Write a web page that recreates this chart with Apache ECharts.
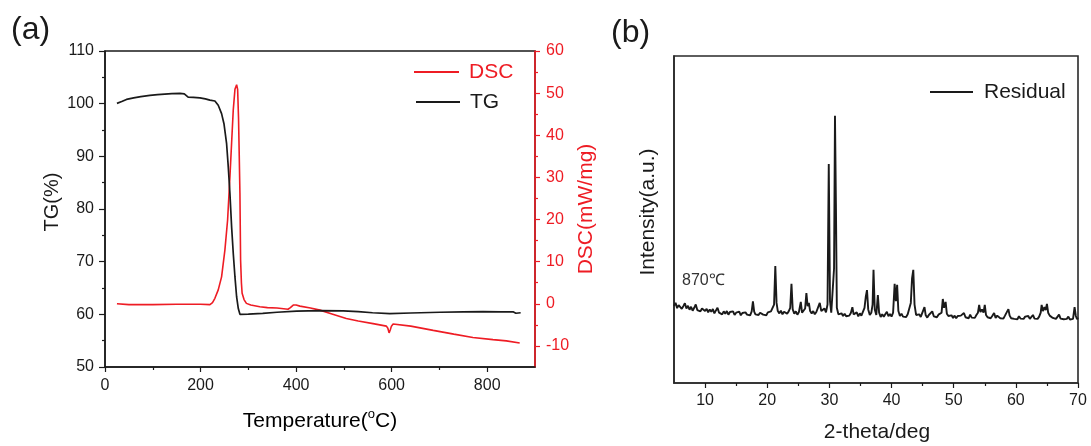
<!DOCTYPE html>
<html>
<head>
<meta charset="utf-8">
<script src="https://cdn.jsdelivr.net/npm/echarts@6/dist/echarts.min.js"></script>
<style>
html,body{margin:0;padding:0;background:#fff;}
#c{width:1091px;height:446px;}
</style>
</head>
<body>
<div id="c"></div>
<script>
// ---- Panel (a): TG / DSC ----
const tempTicks = [0, 200, 400, 600, 800];
const tempMinor = [100, 300, 500, 700];
const tgTicks = [50, 60, 70, 80, 90, 100, 110];
const tgMinor = [55, 65, 75, 85, 95, 105];
const dscTicks = [-10, 0, 10, 20, 30, 40, 50, 60];
const dscMinor = [-5, 5, 15, 25, 35, 45, 55];

const tgData = [
  [25,100.05],[35,100.4],[45,100.8],[60,101.1],[75,101.35],[94,101.57],[110,101.7],[125,101.8],[140,101.9],[157,101.95],
  [166,101.85],[170,101.6],[174,101.25],[185,101.2],[198.7,101.1],[210,100.9],[219.6,100.67],[230,100.5],[237,99.7],
  [244,98.1],[249,96.2],[254.5,92.4],[258,88],[261.5,82.9],[265,76.6],[268.5,71.5],[272,67.1],[275.5,63.3],[279,61.1],
  [282.4,60.0],[300,60.05],[330,60.2],[360,60.4],[401,60.6],[450,60.7],[498.6,60.65],[530,60.5],[560,60.3],[596,60.15],
  [640,60.25],[701,60.4],[750,60.45],[791,60.5],[830,60.45],[855,60.45],[860,60.2],[864,60.45],[870,60.3]
];

const dscData = [
  [25,0.0],[50,-0.2],[100,-0.2],[150,-0.1],[200,-0.1],[219.6,-0.2],[225,0.3],[230,1.3],[237,3.3],[244,6.4],[251,12.8],
  [256.6,19.9],[261.5,30.2],[265,38.2],[268.5,46.1],[272,50.9],[275.5,52.0],[277.6,50.9],[279.5,44.0],[281,35.0],
  [282.4,26.3],[283.8,10.4],[285.5,5.0],[287,2.5],[291,1.0],[296,0.1],[305,-0.3],[324,-0.7],[340,-0.9],[360,-1.0],
  [383,-1.3],[388,-0.9],[394,-0.3],[400,-0.3],[408,-0.55],[430,-1.0],[450,-1.5],[475,-2.4],[505,-3.5],[530,-4.1],
  [561,-4.7],[589,-5.3],[592,-5.8],[594.6,-6.9],[597,-6.2],[599.5,-5.3],[603,-4.8],[640,-5.3],[687,-6.3],[730,-7.2],
  [770,-8.0],[812,-8.5],[840,-8.8],[868,-9.3]
];

// ---- Panel (b): XRD ----
const thetaTicks = [10, 20, 30, 40, 50, 60, 70];
const thetaMinor = [15, 25, 35, 45, 55, 65];
const xrdData = [
  [5.00,23.6],[5.25,24.5],[5.50,22.9],[5.75,23.8],[6.00,24.2],[6.25,22.7],[6.50,23.5],[6.75,24.4],[7.00,22.8],[7.25,23.6],
  [7.50,22.4],[7.75,23.3],[8.00,22.1],[8.25,23.0],[8.50,24.0],[8.75,22.3],[9.00,22.9],[9.25,21.9],[9.50,22.8],[9.75,23.4],
  [10.00,22.0],[10.25,22.7],[10.50,21.6],[10.75,22.5],[11.00,21.8],[11.25,22.6],[11.50,21.3],[11.75,22.2],[12.00,23.0],[12.25,21.5],
  [12.50,22.1],[12.75,21.0],[13.00,21.9],[13.25,21.2],[13.50,22.0],[13.75,20.9],[14.00,21.7],[14.25,21.1],[14.50,21.9],[14.75,20.8],
  [15.00,21.5],[15.25,20.9],[15.50,21.8],[15.75,20.7],[16.00,21.4],[16.25,20.8],[16.50,21.6],[16.75,20.9],[17.00,21.3],[17.25,20.7],
  [17.50,21.9],[17.70,25.0],[17.90,21.8],[18.10,21.0],[18.35,21.6],[18.60,20.8],[18.85,21.5],[19.10,21.9],[19.35,20.9],[19.60,21.4],
  [19.85,20.7],[20.10,21.6],[20.35,21.0],[20.60,21.9],[20.85,22.3],[21.10,24.0],[21.30,35.8],[21.50,24.5],[21.70,22.0],[21.95,21.3],
  [22.20,22.1],[22.45,21.0],[22.70,21.8],[22.95,22.4],[23.20,21.2],[23.45,21.9],[23.70,23.0],[23.90,30.3],[24.10,22.5],[24.35,21.2],
  [24.60,21.9],[24.85,20.9],[25.10,21.7],[25.40,24.8],[25.60,21.5],[25.85,22.0],[26.10,22.8],[26.30,27.5],[26.50,23.5],[26.70,24.5],
  [26.90,22.0],[27.15,21.3],[27.40,22.0],[27.65,21.0],[27.90,21.7],[28.15,22.3],[28.45,24.5],[28.70,22.0],[28.95,21.5],[29.20,22.8],
  [29.45,21.6],[29.70,24.0],[29.90,67.0],[30.10,25.0],[30.30,21.5],[30.55,22.0],[30.75,35.0],[30.90,81.7],[31.05,55.0],[31.20,23.0],
  [31.45,21.0],[31.70,20.6],[31.95,21.3],[32.20,20.5],[32.45,21.2],[32.70,20.4],[32.95,21.0],[33.20,20.6],[33.45,21.4],[33.70,23.2],
  [33.90,21.0],[34.15,20.5],[34.40,21.6],[34.65,20.4],[34.90,21.3],[35.15,20.6],[35.40,21.2],[35.65,23.0],[35.85,26.3],[36.05,28.4],
  [36.25,22.5],[36.50,20.8],[36.75,21.5],[36.95,24.0],[37.10,34.6],[37.30,22.5],[37.55,20.8],[37.80,26.9],[38.00,21.5],[38.25,20.2],
  [38.50,21.0],[38.75,20.3],[39.00,20.9],[39.25,21.8],[39.50,20.4],[39.75,21.1],[40.00,20.3],[40.25,21.5],[40.50,30.3],[40.70,25.0],
  [40.90,30.0],[41.10,22.0],[41.35,20.5],[41.60,21.2],[41.85,20.3],[42.10,20.9],[42.35,20.2],[42.60,21.0],[42.85,21.5],[43.10,24.5],
  [43.30,32.0],[43.50,34.6],[43.70,24.0],[43.95,20.8],[44.20,20.3],[44.45,21.0],[44.70,20.2],[44.95,20.8],[45.30,23.2],[45.50,20.7],
  [45.75,20.0],[46.00,20.8],[46.25,20.2],[46.55,21.9],[46.80,20.4],[47.05,21.0],[47.30,20.1],[47.55,20.9],[47.80,20.3],[48.05,21.5],
  [48.25,25.7],[48.45,23.0],[48.70,24.8],[48.90,21.2],[49.15,20.5],[49.40,20.0],[49.65,20.7],[49.90,19.9],[50.15,20.6],[50.40,19.8],
  [50.65,20.5],[50.90,19.9],[51.15,20.6],[51.40,20.0],[51.65,21.4],[51.90,20.1],[52.15,20.7],[52.40,19.8],[52.65,20.9],[52.90,20.0],
  [53.15,20.6],[53.40,19.9],[53.65,20.8],[53.90,21.5],[54.10,23.9],[54.30,21.7],[54.55,22.5],[54.80,21.5],[55.00,23.9],[55.20,20.8],
  [55.45,20.1],[55.70,20.7],[55.95,19.8],[56.20,20.5],[56.50,21.4],[56.75,19.9],[57.00,20.6],[57.25,21.2],[57.50,19.8],[57.75,20.4],
  [58.00,19.7],[58.25,20.6],[58.55,21.0],[58.80,22.6],[59.00,20.6],[59.25,19.8],[59.50,20.3],[59.75,19.6],[60.00,20.2],[60.25,19.5],
  [60.50,20.4],[60.75,19.7],[61.00,20.2],[61.25,19.6],[61.50,20.3],[61.75,19.8],[62.00,20.5],[62.25,19.6],[62.50,20.0],[62.75,20.8],
  [63.00,19.7],[63.25,20.2],[63.50,19.6],[63.75,20.3],[64.00,21.5],[64.15,23.9],[64.35,22.0],[64.60,23.2],[64.80,22.3],[65.00,24.2],
  [65.20,21.5],[65.45,20.6],[65.70,21.0],[65.95,19.9],[66.20,20.4],[66.45,19.6],[66.70,20.2],[66.95,20.9],[67.20,19.7],[67.45,20.3],
  [67.70,19.5],[67.95,20.1],[68.20,19.6],[68.45,20.3],[68.70,19.4],[68.95,20.0],[69.20,19.6],[69.45,23.2],[69.65,20.5],[69.85,19.5],
  [70.00,20.0]
];

const FONT = '"Liberation Sans", Arial, Helvetica, sans-serif';
const RED = '#ee1c24';
const INK = '#1a1a1a';

const chart = echarts.init(document.getElementById('c'), null, {renderer: 'canvas'});

function mainAxis(extra) {
  return Object.assign({
    type: 'value',
    splitLine: {show: false},
    axisLine: {show: true, onZero: false, lineStyle: {color: INK, width: 1.5}},
    axisTick: {show: true, inside: false, length: 5, lineStyle: {color: INK, width: 1.2}},
    axisLabel: {show: true, color: INK, fontSize: 16, fontFamily: FONT, margin: 11}
  }, extra);
}
function minorAxis(extra, color) {
  return Object.assign({
    type: 'value',
    splitLine: {show: false},
    axisLine: {show: false, onZero: false},
    axisTick: {show: true, inside: false, length: 3, lineStyle: {color: color || INK, width: 1.2}},
    axisLabel: {show: false}
  }, extra);
}
function legendFor(name, color, left, top, w, gap) {
  return {
    data: [{name: name, icon: 'rect', itemStyle: {color: color}, textStyle: {color: color}}],
    left: left, top: top, padding: 0, itemWidth: w, itemHeight: 1.8,
    selectedMode: false,
    textStyle: {fontSize: 21, fontFamily: FONT, lineHeight: 22, padding: [0, 0, 0, gap]}
  };
}

const option = {
  animation: false,
  backgroundColor: '#fff',
  grid: [
    {left: 105, top: 51, width: 430, height: 316, show: true, borderColor: INK, borderWidth: 1.5, backgroundColor: 'transparent', containLabel: false, outerBoundsMode: 'none'},
    {left: 674, top: 56, width: 404, height: 327, show: true, borderColor: '#2a2a2a', borderWidth: 1.6, backgroundColor: 'transparent', containLabel: false, outerBoundsMode: 'none'}
  ],
  xAxis: [
    mainAxis({gridIndex: 0, position: 'bottom', min: 0, max: 900,
      axisTick: {show: true, length: 5, lineStyle: {color: INK, width: 1.2}, customValues: tempTicks},
      axisLabel: {show: true, color: INK, fontSize: 16, fontFamily: FONT, margin: 11, customValues: tempTicks}}),
    minorAxis({gridIndex: 0, position: 'bottom', min: 0, max: 900,
      axisTick: {show: true, length: 3, lineStyle: {color: INK, width: 1.2}, customValues: tempMinor}}),
    mainAxis({gridIndex: 1, position: 'bottom', min: 5, max: 70,
      axisLine: {show: true, onZero: false, lineStyle: {color: '#2a2a2a', width: 1.6}},
      axisTick: {show: true, length: 5, lineStyle: {color: INK, width: 1.2}, customValues: thetaTicks},
      axisLabel: {show: true, color: INK, fontSize: 16, fontFamily: FONT, margin: 10, customValues: thetaTicks}}),
    minorAxis({gridIndex: 1, position: 'bottom', min: 5, max: 70,
      axisTick: {show: true, length: 3, lineStyle: {color: INK, width: 1.2}, customValues: thetaMinor}})
  ],
  yAxis: [
    mainAxis({gridIndex: 0, position: 'left', min: 50, max: 110,
      axisTick: {show: true, length: 6, lineStyle: {color: INK, width: 1.2}, customValues: tgTicks},
      axisLabel: {show: true, color: INK, fontSize: 16, fontFamily: FONT, margin: 11, customValues: tgTicks}}),
    minorAxis({gridIndex: 0, position: 'left', min: 50, max: 110,
      axisTick: {show: true, length: 3, lineStyle: {color: INK, width: 1.2}, customValues: tgMinor}}),
    mainAxis({gridIndex: 0, position: 'right', min: -15, max: 60,
      axisLine: {show: true, onZero: false, lineStyle: {color: RED, width: 1.6}},
      axisTick: {show: true, length: 5, lineStyle: {color: RED, width: 1.2}, customValues: dscTicks},
      axisLabel: {show: true, color: RED, fontSize: 16, fontFamily: FONT, margin: 11, customValues: dscTicks}}),
    minorAxis({gridIndex: 0, position: 'right', min: -15, max: 60,
      axisTick: {show: true, length: 3, lineStyle: {color: RED, width: 1.2}, customValues: dscMinor}}, RED),
    {type: 'value', gridIndex: 1, position: 'left', min: 0, max: 100,
      splitLine: {show: false}, axisLine: {show: true, onZero: false, lineStyle: {color: '#2a2a2a', width: 1.6}},
      axisTick: {show: false}, axisLabel: {show: false}}
  ],
  legend: [
    legendFor('DSC', RED, 414, 61, 45, 5),
    legendFor('TG', INK, 416, 91, 44, 5),
    legendFor('Residual', INK, 930, 81, 43, 6)
  ],
  series: [
    {name: 'TG', type: 'line', xAxisIndex: 0, yAxisIndex: 0, data: tgData, symbol: 'none', showSymbol: false,
      smooth: false, lineStyle: {color: INK, width: 1.7}, itemStyle: {color: INK}, z: 3},
    {name: 'DSC', type: 'line', xAxisIndex: 0, yAxisIndex: 2, data: dscData, symbol: 'none', showSymbol: false,
      smooth: false, lineStyle: {color: RED, width: 1.6}, itemStyle: {color: RED}, z: 2},
    {name: 'Residual', type: 'line', xAxisIndex: 2, yAxisIndex: 4, data: xrdData, symbol: 'none', showSymbol: false,
      smooth: false, lineStyle: {color: INK, width: 1.9}, itemStyle: {color: INK}, z: 2}
  ],
  graphic: [
    {type: 'text', left: 11, top: 14, style: {text: '(a)', font: '32px ' + FONT, fill: INK}},
    {type: 'text', left: 611, top: 17, style: {text: '(b)', font: '32px ' + FONT, fill: INK}},
    {type: 'text', x: 52, y: 202, rotation: Math.PI / 2,
      style: {text: 'TG(%)', font: '20px ' + FONT, fill: INK, align: 'center', verticalAlign: 'middle'}},
    {type: 'text', x: 586, y: 209, rotation: Math.PI / 2,
      style: {text: 'DSC(mW/mg)', font: '21px ' + FONT, fill: RED, align: 'center', verticalAlign: 'middle'}},
    {type: 'text', x: 648, y: 212, rotation: Math.PI / 2,
      style: {text: 'Intensity(a.u.)', font: '21px ' + FONT, fill: INK, align: 'center', verticalAlign: 'middle'}},
    {type: 'text', x: 320, y: 420,
      style: {text: '{t|Temperature(}{o|o}{t|C)}', align: 'center', verticalAlign: 'middle',
        rich: {t: {fontSize: 21, fontFamily: FONT, color: INK, lineHeight: 24, verticalAlign: 'bottom'},
               o: {fontSize: 13, fontFamily: FONT, color: INK, lineHeight: 24, verticalAlign: 'top'}}}},
    {type: 'text', x: 877, y: 432,
      style: {text: '2-theta/deg', font: '21px ' + FONT, fill: INK, align: 'center', verticalAlign: 'middle'}},
    {type: 'text', x: 682, y: 281,
      style: {text: '870℃', font: '16px ' + FONT, fill: '#333', align: 'left', verticalAlign: 'middle'}}
  ]
};
chart.setOption(option);
</script>
</body>
</html>
